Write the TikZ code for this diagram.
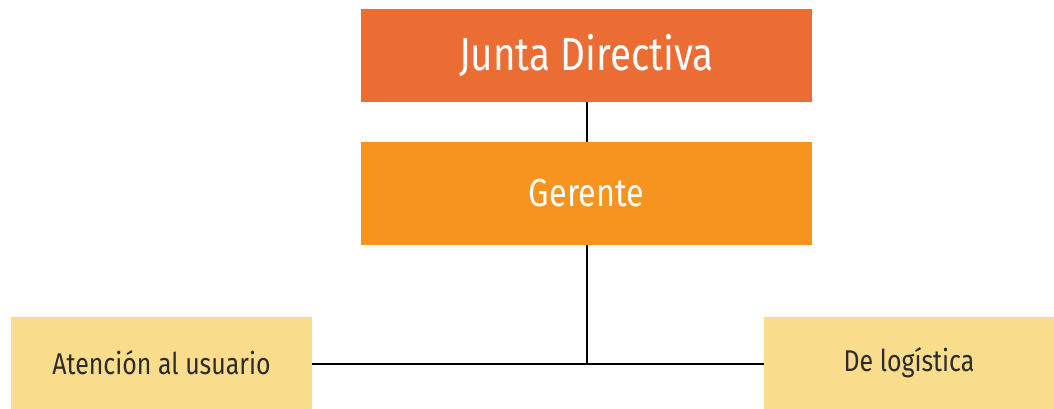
\documentclass[tikz,border=0pt]{standalone}
\usepackage{fontspec}
\setmainfont{Fira Sans}[FakeStretch=0.83]
\definecolor{juntaC}{HTML}{EB6D33}
\definecolor{gerC}{HTML}{F7941F}
\definecolor{deptC}{HTML}{FADD8C}
\definecolor{txtC}{HTML}{2B2B2B}
\begin{document}
\begin{tikzpicture}[x=1pt,y=-1pt,
  box/.style={rectangle, inner sep=0pt, draw=none},
  link/.style={line width=2pt, black}]
\useasboundingbox (0,0) rectangle (1054,409);
\node[box, fill=juntaC, minimum width=451pt, minimum height=93pt, text=white, font=\fontsize{46.5}{50}\selectfont] (junta) at (586.5,55.5) {\raisebox{-2pt}{Junta Directiva}};
\node[box, fill=gerC, minimum width=451pt, minimum height=103pt, text=white, font=\fontsize{39}{44}\selectfont] (ger) at (586.5,193.5) {\raisebox{-2pt}{Gerente}};
\node[box, fill=deptC, minimum width=301pt, minimum height=92pt, text=txtC, font=\fontsize{30}{34}\selectfont] (aten) at (161.5,363) {\raisebox{-1pt}{Atención al usuario}};
\node[box, fill=deptC, minimum width=290pt, minimum height=92pt, text=txtC, font=\fontsize{30}{34}\selectfont] (logi) at (909,363) {\raisebox{-1pt}{De logística}};
\coordinate (j) at (586.5,364);
\draw[link] (junta.south) -- (ger.north);
\draw[link] (ger.south) -- (j);
\draw[link] (aten.east |- j) -- (logi.west |- j);
\end{tikzpicture}
\end{document}
